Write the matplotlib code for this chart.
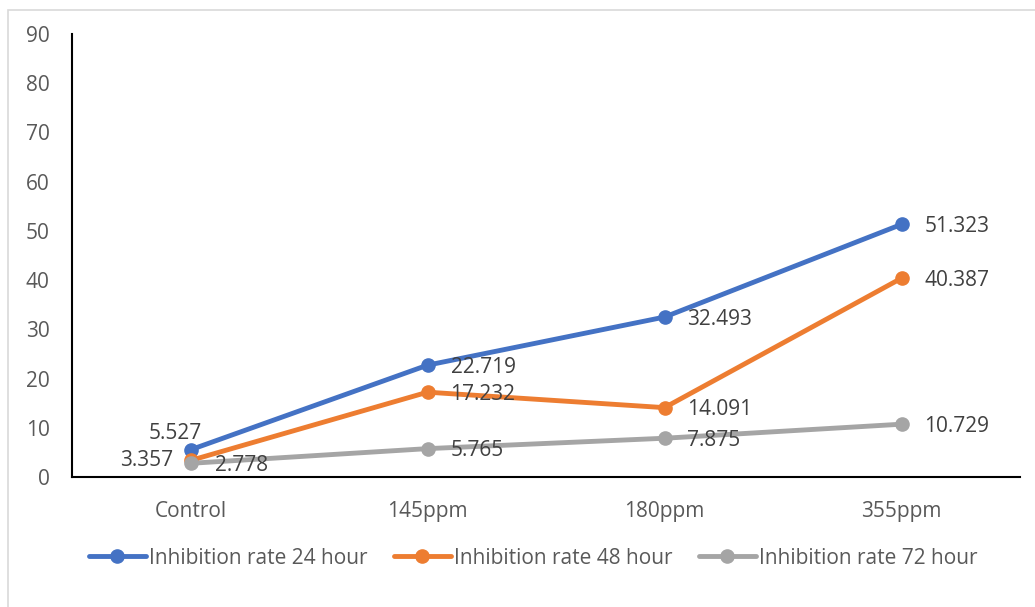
import matplotlib.pyplot as plt
from matplotlib.patches import Rectangle

categories = ["Control", "145ppm", "180ppm", "355ppm"]
rate_24h = [5.527, 22.719, 32.493, 51.323]
rate_48h = [3.357, 17.232, 14.091, 40.387]
rate_72h = [2.778, 5.765, 7.875, 10.729]
series_names = ["Inhibition rate 24 hour", "Inhibition rate 48 hour", "Inhibition rate 72 hour"]
y_ticks = list(range(0, 100, 10))

plt.rcParams["font.family"] = ["Open Sans", "DejaVu Sans"]

colors = ["#4472C4", "#ED7D31", "#A5A5A5"]
# label offsets in pixels (dx, dy, ha) for the first point of each series
first_offsets = [(-15, 16, "center"), (-17, 0, "right"), (24, -2, "left")]

fig = plt.figure(figsize=(10.35, 6.07), dpi=100)
ax = fig.add_axes([72 / 1035, 1 - 477 / 607, 948 / 1035, 443 / 607])

fig.patches.append(Rectangle((8 / 1035, -0.1), 1.2, 1 - 10 / 607 + 0.1,
                             transform=fig.transFigure, fill=False,
                             edgecolor="#D9D9D9", linewidth=1.2))

xs = [i + 0.5 for i in range(len(categories))]
all_series = [rate_24h, rate_48h, rate_72h]
for vals, name, col, first in zip(all_series, series_names, colors, first_offsets):
    ax.plot(xs, vals, color=col, linewidth=3.5, marker="o", markersize=9.5,
            label=name, solid_capstyle="round", zorder=3)
    for i, (x, v) in enumerate(zip(xs, vals)):
        if i == 0:
            dx, dy, ha = first
        else:
            dx, dy, ha = 23, -2, "left"
        ax.annotate(f"{v:.3f}", (x, v), xytext=(dx * 0.72, dy * 0.72),
                    textcoords="offset points", ha=ha, va="center",
                    fontsize=15, color="#404040", zorder=4)

ax.set_xlim(0, len(categories))
ax.set_ylim(0, 90)
ax.set_yticks(y_ticks)
ax.set_xticks(xs)
ax.set_xticklabels(categories)
ax.tick_params(axis="both", length=0, labelsize=15, labelcolor="#595959")
ax.tick_params(axis="y", pad=16)
ax.tick_params(axis="x", pad=17.5)
for s in ["top", "right"]:
    ax.spines[s].set_visible(False)
for s in ["left", "bottom"]:
    ax.spines[s].set_color("black")
    ax.spines[s].set_linewidth(1.5)

leg = fig.legend(loc="center", bbox_to_anchor=(533 / 1035, 1 - 558 / 607), ncol=3,
                 frameon=False, fontsize=15, handlelength=2.75, handletextpad=0.15,
                 columnspacing=1.25, labelcolor="#595959")

fig.savefig("out.png", dpi=100)
